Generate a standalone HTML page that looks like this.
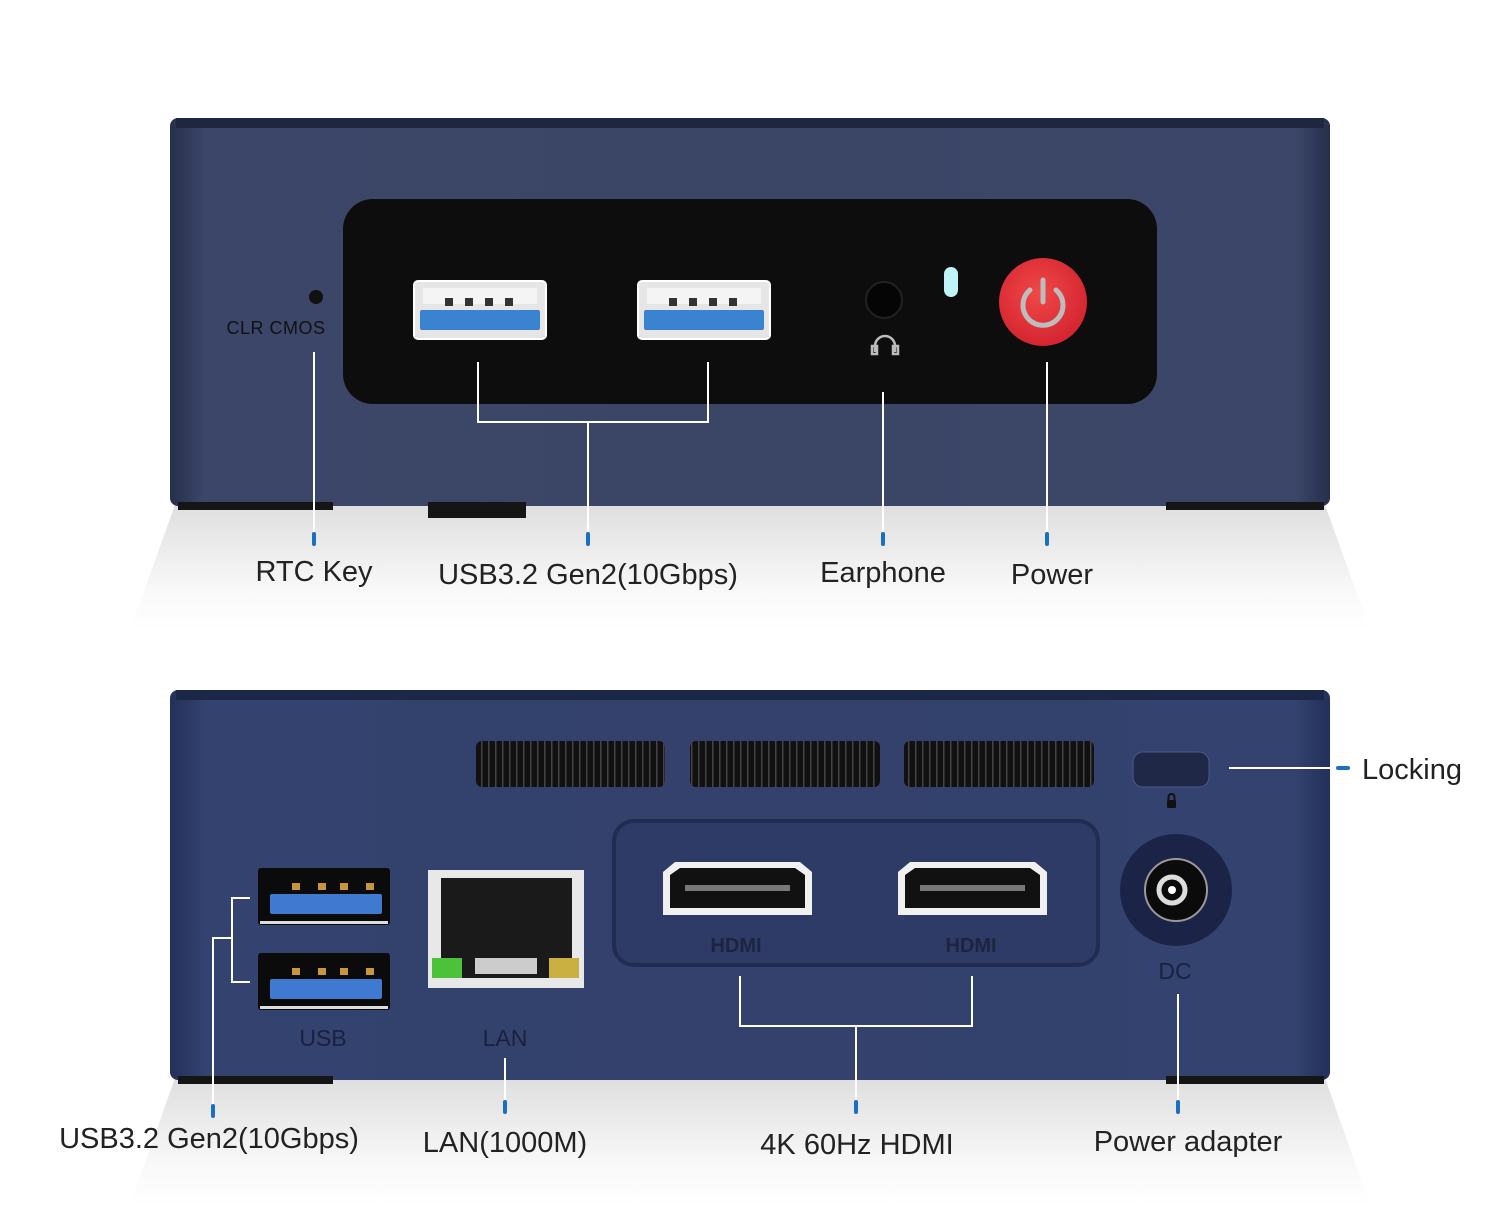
<!DOCTYPE html>
<html><head><meta charset="utf-8"><style>
html,body{margin:0;padding:0;background:#fff;width:1500px;height:1210px;overflow:hidden}
svg{display:block}
text{font-family:"Liberation Sans","DejaVu Sans",sans-serif}
</style></head><body>
<svg width="1500" height="1210" viewBox="0 0 1500 1210" xmlns="http://www.w3.org/2000/svg">
<defs>
<linearGradient id="body1" x1="0" y1="0" x2="1" y2="0">
<stop offset="0" stop-color="#262f4c"/><stop offset="0.03" stop-color="#3c4668"/><stop offset="0.5" stop-color="#3b4566"/><stop offset="0.97" stop-color="#3c4668"/><stop offset="1" stop-color="#262f4c"/></linearGradient>
<linearGradient id="body2" x1="0" y1="0" x2="1" y2="0">
<stop offset="0" stop-color="#22305a"/><stop offset="0.03" stop-color="#33426e"/><stop offset="0.5" stop-color="#33416c"/><stop offset="0.97" stop-color="#33426e"/><stop offset="1" stop-color="#22305a"/></linearGradient>
<linearGradient id="shadow" x1="0" y1="0" x2="0" y2="1">
<stop offset="0" stop-color="#c4c4c4"/><stop offset="0.7" stop-color="#f4f4f4"/><stop offset="1" stop-color="#ffffff"/></linearGradient>
<pattern id="vent" width="7" height="10" patternUnits="userSpaceOnUse">
<rect width="7" height="10" fill="#111"/><rect x="5" width="1.5" height="10" fill="#444"/></pattern>
<radialGradient id="red" cx="0.45" cy="0.4" r="0.6"><stop offset="0" stop-color="#f04848"/><stop offset="1" stop-color="#d42530"/></radialGradient>
</defs>
<path d="M175 505 L1325 505 L1370 630 L130 630 Z" fill="url(#shadow)" opacity="0.55"/>
<path d="M175 1078 L1325 1078 L1370 1205 L130 1205 Z" fill="url(#shadow)" opacity="0.55"/>
<!-- TOP DEVICE -->
<rect x="170" y="118" width="1160" height="388" rx="8" fill="url(#body1)"/>
<rect x="176" y="118" width="1148" height="10" fill="#1e2640"/>
<rect x="178" y="502" width="155" height="8" fill="#151515"/>
<rect x="428" y="502" width="98" height="16" fill="#151515"/>
<rect x="1166" y="502" width="158" height="8" fill="#151515"/>
<rect x="343" y="199" width="814" height="205" rx="30" fill="#0d0d0d"/>
<circle cx="316" cy="297" r="7" fill="#111"/>
<text x="276" y="334" font-size="18" fill="#111" text-anchor="middle" letter-spacing="0.5">CLR  CMOS</text>
<g id="u1">
<rect x="414" y="281" width="132" height="58" rx="4" fill="#e6e6e6" stroke="#fff" stroke-width="2"/>
<rect x="423" y="288" width="114" height="16" fill="#f4f4f4"/>
<rect x="445" y="298" width="8" height="8" fill="#333"/><rect x="465" y="298" width="8" height="8" fill="#333"/><rect x="485" y="298" width="8" height="8" fill="#333"/><rect x="505" y="298" width="8" height="8" fill="#333"/>
<rect x="420" y="310" width="120" height="20" rx="2" fill="#3b82d0"/>
</g>
<use href="#u1" x="224"/>
<circle cx="884" cy="300" r="18" fill="#050505" stroke="#222" stroke-width="2"/>
<path d="M875 352 v-6 a10 10 0 0 1 20 0 v6 M872 346 h5 v8 h-5z M893 346 h5 v8 h-5z" fill="none" stroke="#bbb" stroke-width="2.5"/>
<rect x="944" y="267" width="14" height="30" rx="7" fill="#bff3f5"/>
<circle cx="1043" cy="302" r="44" fill="url(#red)"/>
<path d="M1030 290 a20 20 0 1 0 26 0" fill="none" stroke="#bdbdbd" stroke-width="5" stroke-linecap="round"/>
<line x1="1043" y1="280" x2="1043" y2="302" stroke="#bdbdbd" stroke-width="5" stroke-linecap="round"/>
<g stroke="#fff" stroke-width="2" fill="none">
<line x1="314" y1="352" x2="314" y2="532"/>
<path d="M478 362 V422 H708 V362"/><line x1="588" y1="422" x2="588" y2="532"/>
<line x1="883" y1="392" x2="883" y2="532"/>
<line x1="1047" y1="362" x2="1047" y2="532"/>
</g>
<g stroke="#1a6fc0" stroke-width="4" stroke-linecap="round">
<line x1="314" y1="534" x2="314" y2="544"/><line x1="588" y1="534" x2="588" y2="544"/><line x1="883" y1="534" x2="883" y2="544"/><line x1="1047" y1="534" x2="1047" y2="544"/>
</g>
<g font-size="29" fill="#222" text-anchor="middle">
<text x="314" y="581">RTC Key</text>
<text x="588" y="584">USB3.2 Gen2(10Gbps)</text>
<text x="883" y="582">Earphone</text>
<text x="1052" y="584">Power</text>
</g>
<!-- BOTTOM DEVICE -->
<rect x="170" y="690" width="1160" height="390" rx="8" fill="url(#body2)"/>
<rect x="176" y="690" width="1148" height="10" fill="#1c2748"/>
<rect x="178" y="1076" width="155" height="8" fill="#151515"/>
<rect x="1166" y="1076" width="158" height="8" fill="#151515"/>
<rect x="476" y="741" width="189" height="46" rx="6" fill="url(#vent)"/>
<rect x="690" y="741" width="190" height="46" rx="6" fill="url(#vent)"/>
<rect x="904" y="741" width="190" height="46" rx="6" fill="url(#vent)"/>
<rect x="1133" y="752" width="76" height="35" rx="10" fill="#1f2847" stroke="#4a5a88"/>
<rect x="1167" y="800" width="9" height="8" rx="1" fill="#111"/>
<path d="M1168.5 800 v-3 a3 3 0 0 1 6 0 v3" fill="none" stroke="#111" stroke-width="2"/>
<rect x="614" y="821" width="484" height="144" rx="20" fill="#2d3b66" stroke="#222c50" stroke-width="4"/>
<g id="h1">
<path d="M663 872 L675 862 H800 L812 872 V915 H663 Z" fill="#f0f0f0"/>
<path d="M670 875 L680 868 H795 L805 875 V908 H670 Z" fill="#111"/>
<rect x="685" y="885" width="105" height="6" fill="#777"/>
</g>
<use href="#h1" x="235"/>
<text x="736" y="952" font-size="20" font-weight="bold" fill="#1c2440" text-anchor="middle">HDMI</text>
<text x="971" y="952" font-size="20" font-weight="bold" fill="#1c2440" text-anchor="middle">HDMI</text>
<circle cx="1176" cy="890" r="56" fill="#1b2446"/>
<circle cx="1176" cy="890" r="31" fill="#0b0b0b" stroke="#999" stroke-width="2"/>
<circle cx="1172" cy="890" r="13" fill="none" stroke="#ddd" stroke-width="5"/>
<circle cx="1172" cy="890" r="4" fill="#fff"/>
<text x="1175" y="979" font-size="23" fill="#1a2140" text-anchor="middle">DC</text>
<g id="ub">
<rect x="258" y="868" width="132" height="57" rx="3" fill="#0b0b0b"/>
<rect x="260" y="921" width="128" height="3" fill="#ddd"/>
<rect x="270" y="894" width="112" height="20" rx="2" fill="#3f7ad0"/>
<rect x="292" y="883" width="8" height="7" fill="#c8963c"/><rect x="318" y="883" width="8" height="7" fill="#c8963c"/><rect x="340" y="883" width="8" height="7" fill="#c8963c"/><rect x="366" y="883" width="8" height="7" fill="#c8963c"/>
</g>
<use href="#ub" y="85"/>
<text x="323" y="1046" font-size="23" fill="#1a2140" text-anchor="middle">USB</text>
<rect x="428" y="870" width="156" height="118" fill="#e8e8e8"/>
<rect x="441" y="878" width="131" height="100" fill="#1a1a1a"/>
<rect x="432" y="958" width="30" height="20" fill="#4cc23a"/>
<rect x="549" y="958" width="30" height="20" fill="#c9b040"/>
<rect x="475" y="958" width="62" height="16" fill="#ccc"/>
<text x="505" y="1046" font-size="23" fill="#1a2140" text-anchor="middle">LAN</text>
<g stroke="#fff" stroke-width="2" fill="none">
<path d="M250 898 H232 V982 H250"/><path d="M232 938 H213 V1104"/>
<line x1="505" y1="1058" x2="505" y2="1100"/>
<path d="M740 976 V1026 H972 V976"/><line x1="856" y1="1026" x2="856" y2="1100"/>
<line x1="1178" y1="994" x2="1178" y2="1100"/>
<line x1="1229" y1="768" x2="1330" y2="768"/>
</g>
<g stroke="#1a6fc0" stroke-width="4" stroke-linecap="round">
<line x1="213" y1="1106" x2="213" y2="1116"/><line x1="505" y1="1102" x2="505" y2="1112"/><line x1="856" y1="1102" x2="856" y2="1112"/><line x1="1178" y1="1102" x2="1178" y2="1112"/>
<line x1="1338" y1="768" x2="1348" y2="768"/>
</g>
<g font-size="29" fill="#222" text-anchor="middle">
<text x="209" y="1148">USB3.2 Gen2(10Gbps)</text>
<text x="505" y="1152">LAN(1000M)</text>
<text x="857" y="1154">4K 60Hz HDMI</text>
<text x="1188" y="1151">Power adapter</text>
<text x="1412" y="779">Locking</text>
</g>
</svg>
</body></html>
